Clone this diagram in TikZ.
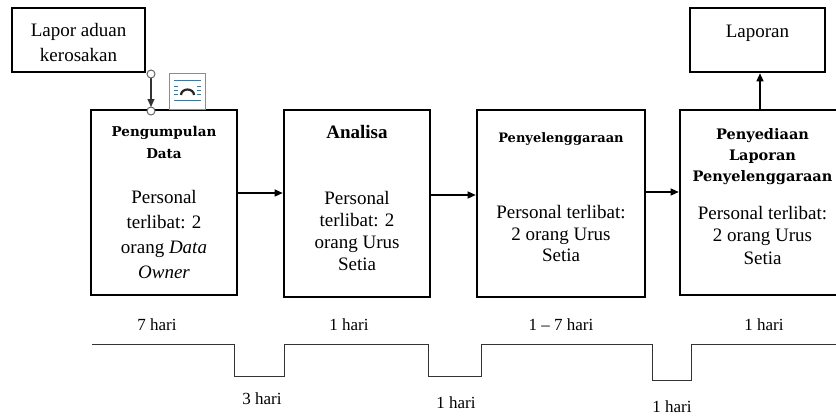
\documentclass[tikz,border=0pt]{standalone}
\usepackage{fontspec}
\setmainfont{Liberation Serif}
\newfontfamily\headfont{DejaVu Serif}
\usepackage{tikz}
\usetikzlibrary{arrows.meta, calc, positioning}
\newcommand{\judul}[2]{{\headfont\bfseries\fontsize{#1}{21}\selectfont #2}}

\begin{document}
\begin{tikzpicture}[
		x=1pt, y=-1pt,
		box/.style={draw, line width=2.6pt, align=center, inner sep=0pt,
			font=\fontsize{19}{22}\selectfont},
		handle/.style={circle, draw=black!60, fill=white, line width=1pt, inner sep=0pt, minimum size=8pt},
		timeline/.style={line width=1pt, draw=black!80},
		hari/.style={font=\fontsize{17}{20}\selectfont},
		->,>={Triangle[length=8pt, width=7pt]}
		]
	\useasboundingbox (0,0) rectangle (836,416);

	% --- Boîtes ---
	\node[box, minimum width=133pt, minimum height=64pt] (aduan) at (78.5,40)
		{\rule{0pt}{19pt}Lapor aduan\\[3pt]kerosakan};
	\node[box, minimum width=146pt, minimum height=185pt] (kumpul) at (164,202.5)
		{\judul{13.5}{Pengumpulan}\\[-0.5pt]\judul{13.5}{Data}\\[23pt]
		Personal\\[3pt]terlibat: 2\\[3pt]orang \textit{Data}\\[3pt]\textit{Owner}};
	\node[box, minimum width=146pt, minimum height=187pt] (analisa) at (357,203.5)
		{\textbf{Analisa}\\[44pt]Personal\\terlibat: 2\\orang Urus\\Setia\rule[-11pt]{0pt}{11pt}};
	\node[box, minimum width=168pt, minimum height=187pt] (lenggara) at (561,203.5)
		{\judul{13}{Penyelenggaraan}\\[54pt]
		Personal terlibat:\\[-0.5pt]2 orang Urus\\[-0.5pt]Setia\rule[-12pt]{0pt}{12pt}};
	\node[box, minimum width=165pt, minimum height=185pt] (sedia) at (762.5,202.5)
		{\judul{14.5}{Penyediaan}\\[-1pt]\judul{14.5}{Laporan}\\[-1pt]\judul{14.5}{Penyelenggaraan}\\[16pt]
		Personal terlibat:\\[0.5pt]2 orang Urus\\[0.5pt]Setia\rule[-12.5pt]{0pt}{12.5pt}};
	\node[box, minimum width=135pt, minimum height=64pt] (laporan) at (757.5,40)
		{Laporan\rule[-17pt]{0pt}{17pt}};

	% --- Penyambung ---
	\coordinate (h0) at (151,74);
	\coordinate (h1) at (151,111);
	\draw[line width=1.2pt, black!80, shorten >=4pt] (h0) -- (h1);
	\node[handle] (ha) at (h0) {};
	\node[handle] (hb) at (h1) {};

	% ikon susun atur
	\node[draw=black!45, fill=white, line width=0.8pt, minimum width=36pt, minimum height=36pt, inner sep=0pt] (ikon) at (187.5,91) {};
	\draw[-, cyan!70!blue, line width=1pt] (174,80) -- (201,80) (174,100) -- (201,100);
	\foreach \yy in {86,90,94} {
		\draw[-, cyan!70!blue, line width=0.8pt] (174,\yy) -- (178,\yy) (197,\yy) -- (201,\yy);
	}
	\draw[-, black!85, line width=2.2pt] (181,95) arc[start angle=180, end angle=0, x radius=6.5pt, y radius=5.5pt];

	\draw[line width=1.3pt] (kumpul.east |- 0,193) -- (analisa.west |- 0,193);
	\draw[line width=1.3pt] (analisa.east |- 0,195) -- (lenggara.west |- 0,195);
	\draw[line width=1.3pt] (lenggara.east |- 0,192) -- (sedia.west |- 0,192);
	\draw[line width=1.3pt] (sedia.north -| 760,0) -- (laporan.south -| 760,0);

	% --- Garis masa ---
	\draw[timeline, -] (92,344) -- (234,344) -- (234,376) -- (284,376) -- (284,344)
		-- (428,344) -- (428,376) -- (481,376) -- (481,344)
		-- (652,344) -- (652,380) -- (691,380) -- (691,344) -- (836,344);

	\node[hari] (t1) at (157,325) {7 hari};
	\node[hari] (t2) at (349,325) {1 hari};
	\node[hari] (t3) at (561,325) {1 – 7 hari};
	\node[hari] (t4) at (764,325) {1 hari};
	\node[hari] (r1) at (262,399) {3 hari};
	\node[hari] (r2) at (456,403) {1 hari};
	\node[hari] (r3) at (672,407) {1 hari};

\end{tikzpicture}
\end{document}
